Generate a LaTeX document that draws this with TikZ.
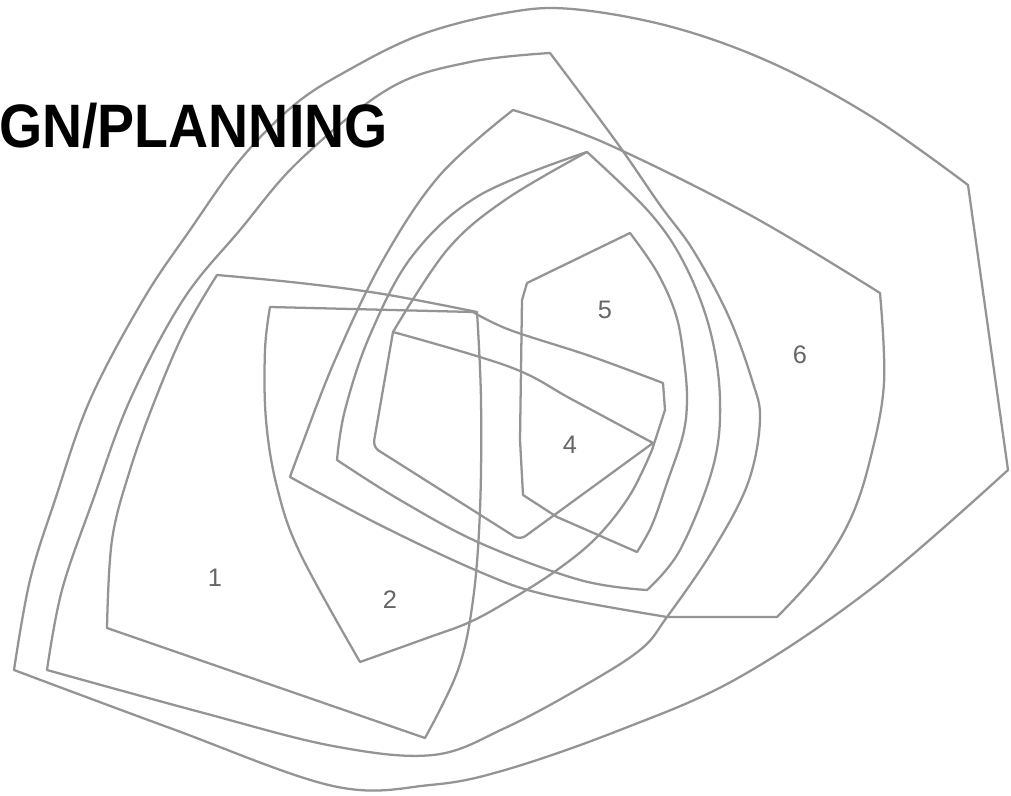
\documentclass[tikz,border=0pt]{standalone}
\usepackage{fontspec}
\setmainfont{Liberation Sans}
\begin{document}
\begin{tikzpicture}[x=0.75pt,y=-0.75pt,line join=round,line cap=round]
\tikzset{
  zone/.style={draw=black!42,line width=1.7pt},
  num/.style={text=black!60,font=\fontsize{19}{19}\selectfont,inner sep=0pt},
  sm/.style={smooth,tension=0.6}
}
\useasboundingbox (0,0) rectangle (1011,796);
\fill[white] (0,0) rectangle (1011,796);

% outermost region
\draw[zone] plot[sm] coordinates {(14,670) (170,728) (333,786) (430,785) (505,770) (620,730) (738,678) (872,588) (1008,470)}
  -- (968,185)
  -- plot[sm] coordinates {(968,185) (872,117) (772,63) (672,27) (572,9) (505,13) (420,35) (345,72) (293,106) (240,160) (190,230) (143,300) (90,400) (55,500) (30,580) (14,670)};

% second outer region
\draw[zone] plot[sm] coordinates {(550,53) (470,62) (390,88) (300,160) (240,230) (183,300) (130,400) (93,500) (62,590) (47,670)}
  -- plot[sm] coordinates {(47,670) (200,712) (333,746) (433,755) (505,728) (580,688) (640,650) (667,617) (713,550) (748,483) (760,420) (752,380) (728,315) (693,250) (660,205) (615,140) (550,53)};

% region 6
\draw[zone] plot[sm] coordinates {(513,110) (605,143) (750,215) (880,293)}
  -- plot[sm] coordinates {(880,293) (884,383) (870,460) (850,520) (818,572) (777,617)}
  -- (667,617)
  -- plot[sm] coordinates {(667,617) (547,595) (480,572) (380,525) (290,477)}
  -- plot[sm] coordinates {(290,477) (300,450) (335,360) (383,260) (440,175) (513,110)};

% region around 4 and 5
\draw[zone] plot[sm] coordinates {(587,152) (650,213) (685,265) (710,330) (720,400) (713,467) (680,550) (647,590)}
  -- plot[sm] coordinates {(647,590) (580,580) (480,543) (400,500) (337,460)}
  -- plot[sm] coordinates {(337,460) (345,410) (370,335) (413,255) (480,195) (587,152)};

% region 4
\draw[zone,rounded corners=5pt] (653,443) -- (520,540) -- (373,447) -- (393,332);
\draw[zone] plot[sm] coordinates {(393,332) (510,367) (573,400) (653,443)};
\draw[zone] plot[sm] coordinates {(393,332) (447,250) (505,200) (587,152)};

% region 5
\draw[zone] plot[sm] coordinates {(637,552) (652,525) (668,480) (683,435) (687,400) (684,360) (676,315) (657,272) (630,233)}
  -- (527,283) -- (522,300) -- (520,440) -- (523,495) -- (557,517) -- cycle;

% region 2
\draw[zone] (270,307) -- (473,312)
  -- plot[sm] coordinates {(473,312) (510,330) (590,356) (663,383)}
  -- (665,410) -- (652,450)
  -- plot[sm] coordinates {(652,450) (630,495) (597,537) (557,570) (510,600) (470,622) (427,638) (360,662)}
  -- plot[sm] coordinates {(360,662) (300,553) (277,487) (266,420) (265,350) (270,307)};

% region 1
\draw[zone] plot[sm] coordinates {(217,275) (300,283) (383,294) (477,312)}
  -- plot[sm] coordinates {(477,312) (481,400) (480,510) (473,600) (458,670) (425,738)}
  -- (107,628)
  -- plot[sm] coordinates {(107,628) (112,540) (130,470) (155,400) (185,330) (217,275)};

\node[num] (n1) at (215,578) {1};
\node[num] (n2) at (390,600) {2};
\node[num] (n4) at (570,445) {4};
\node[num] (n5) at (605,310) {5};
\node[num] (n6) at (800,355) {6};

\node[anchor=base east,inner sep=0pt,xscale=0.905,font=\bfseries\fontsize{46}{50}\selectfont] (title) at (388,147) {GN/PLANNING};
\end{tikzpicture}
\end{document}
